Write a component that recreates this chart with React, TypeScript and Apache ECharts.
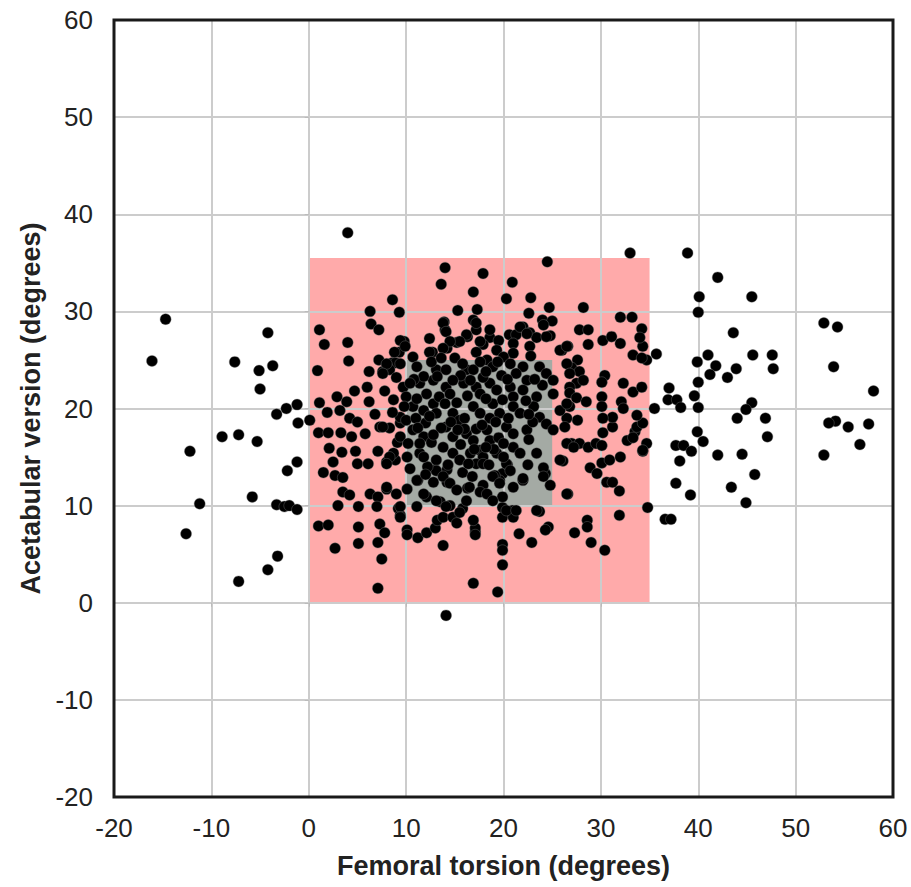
import React, { useEffect, useRef } from "react";
import * as echarts from "echarts";

const xTicks = { min: -20, max: 60, interval: 10 };
const yTicks = { min: -20, max: 60, interval: 10 };

const xTitle = "Femoral torsion (degrees)";
const yTitle = "Acetabular version (degrees)";

// Reference ranges: [x0, y0, x1, y1]
const outerRange = [0, 0, 35, 35.5];
const innerRange = [10, 10, 25, 25];

const leftOutliers: number[][] = [
  [-16.1, 24.9], [-14.7, 29.2], [-12.2, 15.6], [-12.6, 7.1], [-11.2, 10.2], [-8.9, 17.1],
  [-7.6, 24.8], [-7.2, 17.3], [-7.2, 2.2], [-5.8, 10.9], [-5.3, 16.6], [-5.1, 23.9],
  [-5.0, 22.0], [-4.2, 27.8], [-3.7, 24.4], [-4.2, 3.4], [-3.2, 4.8], [-3.3, 19.4],
  [-2.3, 20.0], [-1.2, 20.4], [-1.1, 18.5], [-1.2, 14.5], [-2.2, 13.6], [-3.3, 10.1],
  [-2.5, 9.9], [-2.0, 10.0], [-1.2, 9.6],
];

const rightOutliers: number[][] = [
  [38.9, 36.0], [42.0, 33.5], [40.1, 31.5], [45.5, 31.5], [40.0, 29.9], [52.9, 28.8],
  [54.3, 28.4], [43.6, 27.8], [34.2, 28.2], [34.3, 26.4], [35.7, 25.6], [34.7, 25.0],
  [41.0, 25.5], [45.6, 25.5], [47.6, 25.5], [39.9, 24.8], [41.8, 24.4], [43.9, 24.1],
  [47.7, 24.1], [41.2, 23.5], [43.0, 23.2], [53.9, 24.3], [40.0, 22.7], [37.0, 22.1],
  [36.9, 20.9], [37.8, 20.9], [38.2, 20.1], [35.5, 20.0], [39.6, 21.3], [40.0, 20.1],
  [58.0, 21.8], [45.5, 20.6], [44.9, 19.9], [44.0, 19.0], [46.9, 19.0], [54.1, 18.7],
  [53.4, 18.5], [55.4, 18.1], [57.5, 18.4], [39.9, 17.6], [40.5, 16.6], [34.7, 16.4],
  [34.3, 15.6], [37.7, 16.2], [38.5, 16.2], [39.3, 15.6], [38.1, 14.6], [42.0, 15.2],
  [44.5, 15.3], [47.1, 17.1], [56.6, 16.3], [52.9, 15.2], [45.8, 13.2], [37.7, 12.3],
  [39.2, 11.1], [43.4, 11.9], [44.9, 10.3], [34.8, 9.8], [36.6, 8.6], [37.2, 8.6],
];

const upperLeft: number[][] = [
  [4.0, 38.1], [14.0, 34.5], [13.6, 32.8], [16.9, 32.0], [8.6, 31.2], [9.3, 29.9],
  [6.3, 30.0], [15.3, 30.1], [6.4, 28.7], [7.2, 28.1], [1.1, 28.1], [13.9, 28.9],
  [14.0, 28.1], [1.6, 26.6], [4.0, 26.8], [9.8, 26.9], [4.1, 24.9], [9.3, 25.8],
  [0.9, 23.9], [7.2, 25.0], [6.2, 23.8], [7.6, 23.8], [8.6, 24.7], [12.7, 25.8],
  [14.2, 26.2], [15.2, 26.8], [16.3, 27.4], [16.9, 29.1], [4.7, 21.8], [1.1, 20.6],
  [2.9, 21.2], [3.9, 20.7], [6.2, 20.7], [1.9, 19.6], [3.2, 19.8], [4.2, 19.0],
  [5.0, 18.6], [0.1, 18.8], [8.9, 24.7], [8.0, 24.5], [8.3, 24.0],
];

const lowerLeft: number[][] = [
  [1.0, 17.5], [2.0, 17.5], [3.3, 17.5], [4.4, 17.1], [5.8, 17.4], [7.3, 18.1],
  [2.1, 15.9], [3.4, 15.5], [4.8, 15.6], [7.1, 15.6], [2.5, 14.5], [5.0, 14.3],
  [6.1, 14.3], [1.5, 13.4], [2.7, 13.1], [3.5, 12.9], [8.0, 14.5], [8.9, 14.7],
  [3.5, 11.4], [4.2, 11.1], [6.3, 11.2], [8.0, 11.7], [7.1, 10.9], [3.0, 10.0],
  [5.1, 9.9], [7.0, 9.9], [1.0, 7.9], [2.0, 8.0], [5.1, 7.8], [7.3, 8.1],
  [7.8, 7.2], [7.1, 6.2], [5.1, 6.1], [2.7, 5.6], [7.5, 4.5], [7.1, 1.5],
  [14.1, -1.3], [16.9, 2.0], [10.1, 11.7], [9.2, 9.7], [9.4, 9.0], [10.1, 7.5],
  [10.1, 7.0], [11.2, 6.7], [12.1, 7.2], [13.0, 7.7], [13.8, 5.9], [11.1, 9.9],
  [11.2, 12.6], [12.8, 12.4], [14.2, 12.4], [16.3, 11.8], [13.2, 8.5], [13.8, 8.8],
  [14.8, 8.8], [15.2, 8.2], [15.8, 9.7], [17.1, 7.3], [13.0, 13.7], [14.2, 13.7],
  [12.1, 10.9], [13.5, 10.4], [14.5, 10.0], [15.5, 9.3], [9.1, 16.5], [8.7, 15.4],
  [10.1, 15.0], [8.3, 18.0], [9.4, 18.5],
];

const lowerRight: number[][] = [
  [26.1, 14.6], [26.6, 11.2], [27.0, 16.4], [27.8, 16.4], [28.7, 16.0], [29.5, 16.4],
  [30.1, 16.2], [28.9, 13.9], [29.6, 13.3], [30.1, 14.4], [30.9, 14.7], [32.0, 15.0],
  [30.6, 12.4], [31.2, 12.4], [31.9, 11.5], [31.9, 9.0], [32.7, 16.7], [33.5, 17.6],
  [34.3, 15.7], [33.7, 18.1], [33.3, 17.0], [28.6, 8.5], [28.6, 7.8], [27.3, 7.2],
  [29.0, 6.2], [30.4, 5.4], [24.6, 7.8], [24.3, 7.5], [23.7, 9.4], [21.6, 7.1],
  [22.9, 6.2], [19.9, 6.0], [19.9, 5.4], [19.9, 3.9], [19.4, 1.1], [17.1, 7.7],
  [17.1, 7.0], [19.9, 9.8], [19.9, 8.8], [20.9, 9.5], [21.0, 8.8], [19.9, 10.9],
  [24.8, 12.1], [24.3, 13.3], [24.1, 13.9], [22.0, 12.6], [19.9, 13.3], [20.4, 14.2],
  [19.6, 12.6], [17.9, 12.1], [17.6, 11.4], [30.2, 17.5], [31.2, 18.1], [34.3, 18.5],
  [19.1, 13.1], [16.9, 8.5],
];

const upperRight: number[][] = [
  [24.5, 35.1], [33.0, 36.0], [17.9, 33.9], [20.9, 33.0], [20.3, 31.3], [22.8, 31.4],
  [17.3, 30.2], [22.6, 29.8], [24.7, 30.4], [28.2, 30.4], [32.0, 29.4], [33.2, 29.4],
  [24.0, 29.1], [25.0, 29.0], [22.0, 28.4], [27.8, 28.1], [28.7, 28.1], [17.2, 28.1],
  [20.6, 27.6], [21.3, 27.6], [22.7, 27.8], [24.8, 27.5], [23.4, 27.3], [28.7, 26.6],
  [30.2, 27.0], [31.1, 27.4], [32.0, 26.7], [34.0, 27.3], [33.3, 25.5], [34.2, 25.2],
  [18.6, 27.3], [17.9, 26.6], [26.6, 26.4], [26.0, 26.0], [27.6, 25.0], [27.0, 24.2],
  [27.8, 23.8], [27.5, 22.6], [28.2, 22.9], [26.8, 22.2], [30.4, 23.4], [30.1, 22.7],
  [32.3, 22.6], [33.3, 21.7], [26.8, 21.6], [27.5, 21.1], [28.5, 20.7], [30.1, 21.2],
  [32.1, 20.7], [26.8, 20.2], [30.1, 20.2], [34.2, 22.2], [33.7, 19.3], [32.3, 20.0],
  [31.2, 19.1], [30.2, 19.0], [27.6, 18.8], [26.5, 19.0], [25.8, 19.8], [26.3, 18.1],
];

const centralCluster: number[][] = [
  [13.8, 28.8], [14.1, 27.9], [17.2, 28.8], [18.6, 28.1], [21.7, 28.4], [22.4, 27.7],
  [24.1, 28.6], [24.4, 27.4], [16.2, 27.6], [15.5, 26.9], [14.5, 26.9], [13.8, 26.2],
  [9.4, 27.0], [9.9, 26.4], [8.8, 25.8], [12.4, 25.8], [17.6, 26.9], [17.2, 25.8],
  [19.5, 27.0], [19.3, 26.0], [21.0, 26.7], [21.0, 25.7], [22.7, 26.4], [25.8, 26.0],
  [26.5, 26.4], [8.0, 24.6], [7.6, 23.6], [9.4, 24.6], [10.7, 25.3], [11.1, 24.3],
  [13.1, 24.0], [14.1, 24.0], [16.2, 24.0], [16.9, 24.0], [18.3, 25.0], [18.9, 24.3],
  [20.0, 25.3], [20.7, 24.6], [22.0, 24.3], [21.3, 23.6], [23.7, 24.3], [24.4, 23.6],
  [26.5, 24.6], [26.8, 23.6], [9.7, 22.2], [10.0, 21.2], [8.7, 20.9], [11.4, 22.6],
  [12.1, 21.5], [12.8, 22.9], [14.1, 22.2], [14.5, 21.5], [15.9, 22.6], [17.2, 22.2],
  [17.6, 21.5], [18.6, 22.6], [19.3, 21.9], [20.7, 22.2], [21.0, 21.2], [22.4, 22.9],
  [22.0, 21.9], [23.4, 21.2], [25.1, 22.9], [25.1, 21.5], [26.5, 20.5], [10.7, 20.2],
  [11.8, 19.8], [12.8, 20.5], [13.1, 19.5], [9.4, 19.1], [10.0, 18.8], [7.6, 18.1],
  [14.8, 19.5], [15.5, 18.8], [16.9, 20.2], [17.6, 19.5], [18.9, 20.5], [19.6, 19.5],
  [21.0, 20.2], [21.7, 19.5], [23.1, 20.2], [23.7, 19.1], [10.7, 17.8], [11.8, 17.1],
  [9.4, 17.1], [14.1, 18.1], [14.8, 17.1], [16.2, 17.4], [16.9, 16.7], [18.3, 17.8],
  [18.6, 16.7], [20.3, 18.1], [21.0, 17.4], [22.4, 17.8], [24.4, 18.4], [25.1, 17.8],
  [26.5, 16.4], [27.2, 16.0], [8.3, 15.0], [8.0, 14.3], [11.4, 15.4], [11.4, 16.4],
  [13.1, 14.7], [14.8, 15.4], [15.5, 14.7], [17.6, 15.7], [17.9, 15.0], [19.3, 15.4],
  [21.0, 16.0], [21.7, 15.4], [23.4, 15.4], [25.8, 14.7], [13.1, 13.6], [13.8, 13.0],
  [17.2, 14.3], [17.9, 14.3], [20.3, 14.3], [20.7, 13.6], [24.1, 13.0], [11.1, 12.6],
  [14.5, 12.3], [15.2, 11.6], [16.5, 11.9], [18.9, 13.0], [19.6, 12.3], [22.0, 12.8],
  [21.0, 11.9], [8.0, 11.9], [9.0, 11.2], [11.8, 11.2], [13.1, 10.5], [14.1, 9.9],
  [16.2, 10.5], [18.3, 11.2], [18.9, 10.5], [26.5, 11.2], [9.4, 9.9], [9.4, 8.8],
  [20.3, 9.5], [21.3, 9.5], [23.4, 9.5],
];

const centralFill: number[][] = [
  [11.8, 23.3], [12.6, 24.8], [15.0, 25.2], [15.6, 23.4], [17.9, 23.2], [19.8, 23.4],
  [13.4, 21.2], [15.2, 20.6], [16.3, 21.3], [18.2, 21.0], [19.9, 20.9], [11.1, 21.0],
  [12.0, 18.5], [13.6, 18.0], [16.0, 19.0], [18.6, 19.0], [20.5, 19.0], [10.2, 16.4],
  [12.6, 16.5], [13.8, 16.0], [15.6, 16.3], [17.2, 17.9], [19.5, 17.0], [20.0, 16.4],
  [22.6, 16.8], [23.0, 18.6], [22.3, 20.8], [24.0, 22.4], [16.6, 15.4], [18.5, 14.2],
  [12.2, 14.0], [15.8, 13.4], [16.8, 13.0], [22.5, 14.2], [23.2, 23.0], [12.4, 27.2],
  [10.8, 23.0], [9.0, 23.2], [19.0, 15.8], [14.0, 20.5],
];

const centralCore: number[][] = [
  [11.0, 19.0], [12.4, 19.2], [14.6, 18.6], [16.0, 17.9], [17.8, 18.3], [19.2, 18.6],
  [10.4, 22.6], [13.2, 23.3], [14.8, 22.9], [16.6, 22.9], [18.2, 23.8], [20.4, 23.0],
  [12.8, 17.3], [15.3, 17.8], [17.0, 15.8], [18.2, 16.0], [11.8, 15.0], [14.3, 14.2],
  [16.4, 14.3], [20.0, 15.0], [11.2, 18.0], [9.8, 20.2], [8.6, 19.6], [7.8, 21.8],
  [6.8, 19.4], [6.0, 22.2], [15.8, 24.6], [17.6, 24.8], [19.4, 24.8], [13.6, 25.2],
  [22.8, 25.4], [22.6, 19.4], [12.0, 13.2], [10.4, 13.8],
];

const allPoints = [
  ...leftOutliers, ...rightOutliers, ...upperLeft, ...lowerLeft,
  ...lowerRight, ...upperRight, ...centralCluster, ...centralFill, ...centralCore,
];

const FONT = "'Liberation Sans', Arial, sans-serif";

export default function App() {
  const ref = useRef<HTMLDivElement>(null);
  useEffect(() => {
    if (!ref.current) return;
    const chart = echarts.init(ref.current, null, { renderer: "svg" });
    const axisCommon = {
      type: "value" as const,
      z: 2,
      axisLine: { show: false },
      axisTick: { show: true, length: 4, lineStyle: { color: "#bbbbbb", width: 1 } },
      splitLine: { show: true, lineStyle: { color: "#cccccc", width: 2 } },
      axisLabel: { color: "#222222", fontSize: 26, fontFamily: FONT },
      nameLocation: "middle" as const,
      nameTextStyle: { color: "#222222", fontSize: 27, fontWeight: "bold" as const, fontFamily: FONT },
    };
    chart.setOption({
      animation: false,
      backgroundColor: "#ffffff",
      grid: {
        left: 114, right: 18, top: 20, bottom: 90,
        show: true, z: 10, backgroundColor: "transparent",
        borderColor: "#1a1a1a", borderWidth: 3,
      },
      xAxis: {
        ...axisCommon, ...xTicks, name: xTitle, nameGap: 55,
        axisLabel: { ...axisCommon.axisLabel, margin: 18 },
      },
      yAxis: {
        ...axisCommon, ...yTicks, name: yTitle, nameGap: 69,
        axisLabel: { ...axisCommon.axisLabel, margin: 21 },
      },
      series: [
        {
          type: "scatter",
          data: [],
          silent: true,
          markArea: {
            silent: true,
            z: 1,
            data: [
              [
                { coord: [outerRange[0], outerRange[1]], itemStyle: { color: "#ffaaaa" } },
                { coord: [outerRange[2], outerRange[3]] },
              ],
              [
                { coord: [innerRange[0], innerRange[1]], itemStyle: { color: "#a4aaa4" } },
                { coord: [innerRange[2], innerRange[3]] },
              ],
            ],
          },
        },
        {
          type: "scatter",
          z: 5,
          symbol: "circle",
          symbolSize: 11,
          itemStyle: { color: "#000000", borderColor: "rgba(120,120,120,0.5)", borderWidth: 0.8, opacity: 1 },
          data: allPoints,
        },
      ],
    });
    return () => chart.dispose();
  }, []);
  return (
    <div
      ref={ref}
      style={{ position: "fixed", left: 0, top: 0, width: 911, height: 887 }}
    />
  );
}
